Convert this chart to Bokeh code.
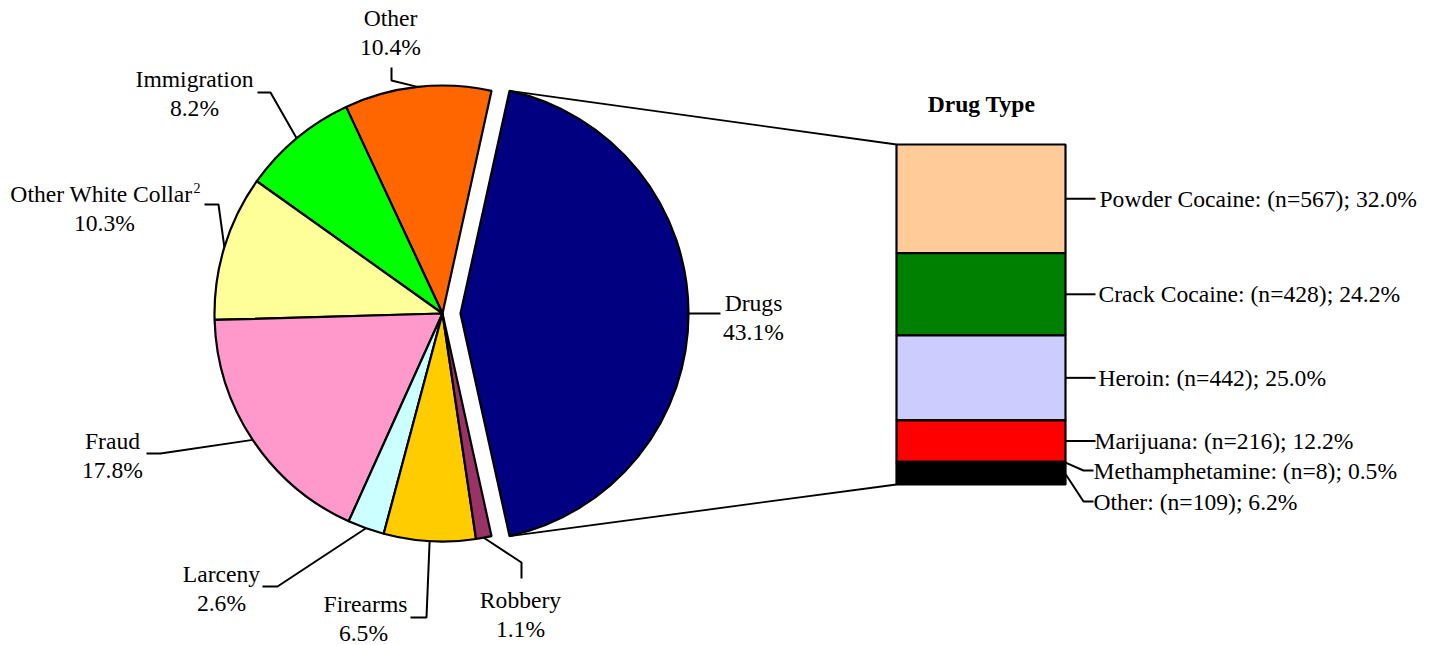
import numpy as np
from bokeh.plotting import figure
from bokeh.models import Range1d, ColumnDataSource
from bokeh.core.properties import value
from bokeh.embed import file_html
from bokeh.resources import INLINE

# ---------------- data ----------------
offense = ["Drugs", "Other", "Immigration", "Other White Collar", "Fraud",
           "Larceny", "Firearms", "Robbery"]
offense_pct = [43.1, 10.4, 8.2, 10.3, 17.8, 2.6, 6.5, 1.1]
offense_colors = ["#000080", "#FF6600", "#00FF00", "#FFFF99", "#FF99CC",
                  "#CCFFFF", "#FFCC00", "#993366"]

drug_types = ["Powder Cocaine", "Crack Cocaine", "Heroin", "Marijuana",
              "Methamphetamine", "Other"]
drug_n = [567, 428, 442, 216, 8, 109]
drug_pct = [32.0, 24.2, 25.0, 12.2, 0.5, 6.2]
drug_colors = ["#FFCC99", "#008000", "#CCCCFF", "#FF0000", "#000000", "#000000"]
bar_title = "Drug Type"

# ---------------- layout ----------------
W, H = 1430, 645
FONT = value("Liberation Serif")
FS = "23.6px"


def Y(py):
    return 645 - py


p = figure(width=W, height=H, output_backend="svg", toolbar_location=None,
           x_range=Range1d(0, W), y_range=Range1d(645 - H, 645),
           min_border=0)
p.axis.visible = False
p.grid.visible = False
p.outline_line_color = None
p.background_fill_color = "white"
p.border_fill_color = "white"

# ---------------- pie ----------------
CX, CY, R, EXPLODE = 442, Y(313), 228, 18
pct = np.array(offense_pct)
frac = pct / pct.sum()
ang = frac * 2 * np.pi
start0 = -ang[0] / 2
starts = start0 + np.concatenate([[0], np.cumsum(ang)[:-1]])
ends = starts + ang
mids = (starts + ends) / 2
xs = [CX + (EXPLODE if i == 0 else 0) for i in range(len(offense))]
ys = [CY] * len(offense)

src = ColumnDataSource(dict(x=xs, y=ys, start=starts, end=ends, color=offense_colors))
p.wedge(x="x", y="y", radius=R, start_angle="start", end_angle="end",
        fill_color="color", line_color="black", line_width=2.2, source=src)

# leader elbows and label positions (pixel coords), per offense
elbows = {
    "Drugs": [(720, 313)],
    "Other": [(391, 80), (391, 67)],
    "Immigration": [(270, 92), (257, 92)],
    "Other White Collar": [(218, 204), (204, 204)],
    "Fraud": [(160, 453), (146, 453)],
    "Larceny": [(277, 586), (262, 586)],
    "Firearms": [(426, 617), (410, 617)],
    "Robbery": [(521, 562), (521, 578)],
}
label_pos = {
    "Drugs": (753, 302),
    "Other": (390, 17),
    "Immigration": (194, 78),
    "Fraud": (112, 440),
    "Larceny": (221, 573),
    "Firearms": (365, 603),
    "Robbery": (520, 599),
}
pct_dx = {"Firearms": -2}

lx, ly = [], []
for i, name in enumerate(offense):
    cx = xs[i]
    ax = cx + R * np.cos(mids[i])
    ay = CY + R * np.sin(mids[i])
    px = [ax] + [e[0] for e in elbows[name]]
    py = [ay] + [Y(e[1]) for e in elbows[name]]
    lx.append(px)
    ly.append(py)
p.multi_line(xs=lx, ys=ly, line_color="black", line_width=2)

t1x, t1y, t1 = [], [], []
for i, name in enumerate(offense):
    if name not in label_pos:
        continue
    x0, y0 = label_pos[name]
    t1x += [x0, x0 + pct_dx.get(name, 0)]
    t1y += [Y(y0), Y(y0 + 29)]
    t1 += [name, f"{offense_pct[i]:.1f}%"]
p.text(x=t1x, y=t1y, text=t1, text_font=FONT, text_font_size=FS,
       text_align="center", text_baseline="middle", text_color="black")

# "Other White Collar" with superscript footnote marker
owc = offense.index("Other White Collar")
p.text(x=[192], y=[Y(193)], text=[offense[owc]], text_font=FONT, text_font_size=FS,
       text_align="right", text_baseline="middle", text_color="black")
p.text(x=[104], y=[Y(222)], text=[f"{offense_pct[owc]:.1f}%"], text_font=FONT,
       text_font_size=FS, text_align="center", text_baseline="middle", text_color="black")
p.text(x=[193], y=[Y(187)], text=["2"], text_font=FONT, text_font_size="14px",
       text_align="left", text_baseline="middle", text_color="black")

# ---------------- stacked bar ----------------
BL, BR, BTOP, BH = 896, 1065, 144, 340
dp = np.array(drug_pct)
seg_h = dp / dp.sum() * BH
tops_px = BTOP + np.concatenate([[0], np.cumsum(seg_h)[:-1]])
bots_px = tops_px + seg_h
p.quad(left=BL, right=BR, top=[Y(t) for t in tops_px], bottom=[Y(b) for b in bots_px],
       fill_color=drug_colors, line_color="black", line_width=2.2)

# connector lines from exploded slice to bar
dx0 = xs[0]
top_pt = (dx0 + R * np.cos(ends[0]), CY + R * np.sin(ends[0]))
bot_pt = (dx0 + R * np.cos(starts[0]), CY + R * np.sin(starts[0]))
p.multi_line(xs=[[top_pt[0], BL], [bot_pt[0], BL]],
             ys=[[top_pt[1], Y(BTOP)], [bot_pt[1], Y(BTOP + BH)]],
             line_color="black", line_width=1.8)

# bar leaders and labels
mid_px = (tops_px + bots_px) / 2
label_y_px = list(mid_px[:4]) + [470, 501]
bx, by = [], []
for k in range(len(drug_types)):
    if k < 4:
        bx.append([BR, 1095])
        by.append([Y(mid_px[k]), Y(mid_px[k])])
    elif k == 4:
        bx.append([BR, 1083, 1093])
        by.append([Y(mid_px[k]), Y(470), Y(470)])
    else:
        bx.append([BR, 1083, 1093])
        by.append([Y(mid_px[k]), Y(501), Y(501)])
p.multi_line(xs=bx, ys=by, line_color="black", line_width=2)

btext = [f"{d}: (n={n}); {v:.1f}%" for d, n, v in zip(drug_types, drug_n, drug_pct)]
bx_text = [1099, 1098, 1098, 1094, 1093, 1093]
p.text(x=bx_text, y=[Y(v) for v in label_y_px], text=btext,
       text_font=FONT, text_font_size=FS, text_align="left",
       text_baseline="middle", text_color="black")

p.text(x=[981], y=[Y(103)], text=[bar_title], text_font=FONT, text_font_size=FS,
       text_font_style="bold", text_align="center", text_baseline="middle",
       text_color="black")

open("out.html", "w").write(file_html(p, INLINE))
